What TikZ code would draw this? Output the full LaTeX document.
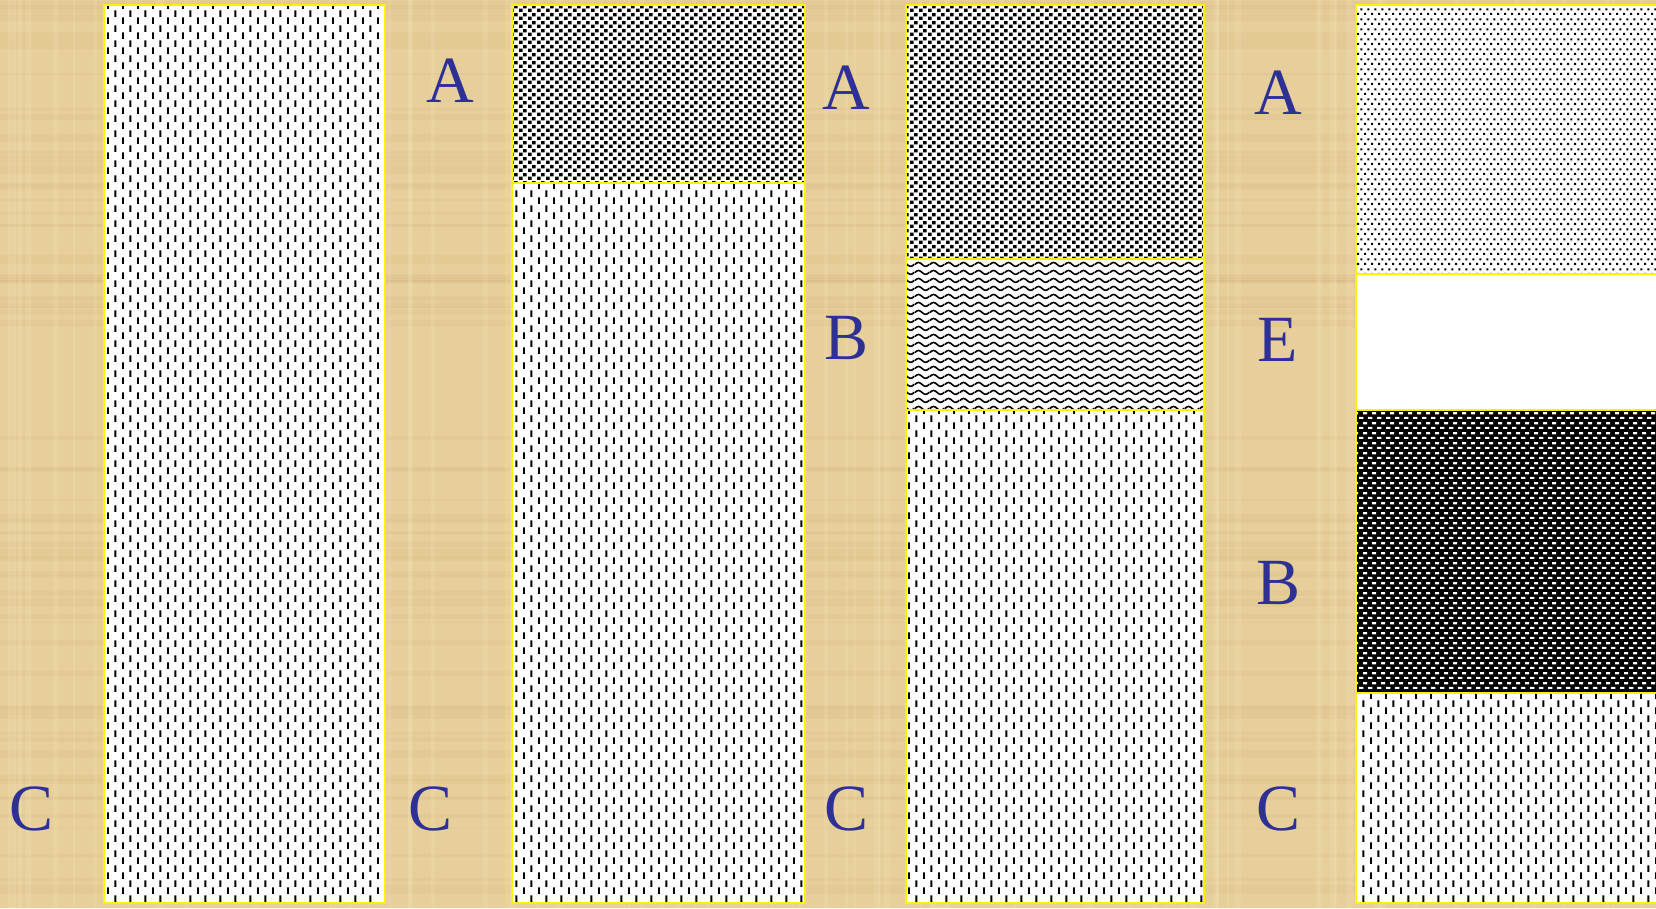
\documentclass[tikz,border=0pt]{standalone}
\usepackage{fontspec}
\setmainfont{Liberation Serif}
\usetikzlibrary{patterns.meta,positioning}

\definecolor{papyrus}{RGB}{231,207,155}
\definecolor{papyrusdark}{RGB}{205,172,112}
\definecolor{papyruslight}{RGB}{245,228,188}
\definecolor{letterblue}{RGB}{46,48,150}

\tikzdeclarepattern{
  name=dashgrid,
  bounding box={(0pt,0pt) and (15.4pt,15pt)},
  tile size={(15.4pt,15pt)},
  code={
    \fill (0pt,0pt) rectangle (2pt,7pt);
    \fill (7.7pt,7.5pt) rectangle (9.7pt,14.5pt);
  }
}
\tikzdeclarepattern{
  name=squaregrid,
  bounding box={(0pt,0pt) and (8.5pt,8pt)},
  tile size={(8.5pt,8pt)},
  code={
    \fill (0pt,0pt) rectangle (3.7pt,3.7pt);
    \fill (4.25pt,4pt) rectangle (7.95pt,7.7pt);
  }
}
\tikzdeclarepattern{
  name=wavegrid,
  bounding box={(0pt,0pt) and (15pt,8pt)},
  tile size={(15pt,8pt)},
  code={
    \draw[line width=1.8pt] (-0.5pt,4pt) -- (0pt,4pt) sin (3.75pt,6.2pt) cos (7.5pt,4pt)
      sin (11.25pt,1.8pt) cos (15pt,4pt) -- (15.5pt,4pt);
  }
}
\tikzdeclarepattern{
  name=dotgrid,
  bounding box={(0pt,0pt) and (7.3pt,9.6pt)},
  tile size={(7.3pt,9.6pt)},
  code={
    \fill (0pt,0pt) rectangle (2.2pt,2.2pt);
    \fill (3.65pt,4.8pt) rectangle (5.85pt,7pt);
  }
}
\tikzdeclarepattern{
  name=brickgrid,
  bounding box={(0pt,0pt) and (8.6pt,10pt)},
  tile size={(8.6pt,10pt)},
  code={
    \fill (0pt,0pt) rectangle (4.5pt,2.4pt);
    \fill (4.3pt,5pt) rectangle (8.6pt,7.4pt);
  }
}

\begin{document}
\begin{tikzpicture}[
  x=1pt, y=-1pt,
  zone/.style={draw=yellow, line width=2pt, inner sep=0pt, outer sep=0pt, anchor=north west},
  lite/.style={zone, preaction={fill=white}},
  lab/.style={font=\fontsize{66}{70}\selectfont, text=letterblue, anchor=base, inner sep=0pt}
]
\useasboundingbox (0,0) rectangle (1656,908);
\fill[papyrus] (0,0) rectangle (1656,908);
\pgfmathsetseed{11}
\foreach \i in {1,...,70} {
  \pgfmathsetmacro{\yy}{rnd*908}
  \pgfmathsetmacro{\hh}{1+rnd*8}
  \fill[papyrusdark, opacity=0.12] (0,\yy) rectangle (1656,\yy+\hh);
}
\foreach \i in {1,...,90} {
  \pgfmathsetmacro{\xx}{rnd*1656}
  \pgfmathsetmacro{\ww}{1+rnd*6}
  \fill[papyruslight, opacity=0.2] (\xx,0) rectangle (\xx+\ww,908);
}

\node[lite, pattern=dashgrid, minimum width=281pt, minimum height=898pt] (colc) at (104,5) {};

\node[lite, pattern=squaregrid, minimum width=293pt, minimum height=178pt] (acA) at (512,5) {};
\node[lite, pattern=dashgrid, minimum width=293pt, minimum height=720pt] (acC) at (512,183) {};

\node[lite, pattern=squaregrid, minimum width=298pt, minimum height=254pt] (abcA) at (906,5) {};
\node[lite, pattern=wavegrid, minimum width=298pt, minimum height=151pt] (abcB) at (906,259) {};
\node[lite, pattern=dashgrid, minimum width=298pt, minimum height=493pt] (abcC) at (906,410) {};

\node[lite, pattern=dotgrid, minimum width=304pt, minimum height=269pt] (aebcA) at (1356,5) {};
\node[zone, fill=white, minimum width=304pt, minimum height=136pt] (aebcE) at (1356,274) {};
\node[zone, preaction={fill=black}, pattern=brickgrid, pattern color=white, minimum width=304pt, minimum height=283pt] (aebcB) at (1356,410) {};
\node[lite, pattern=dashgrid, minimum width=304pt, minimum height=210pt] (aebcC) at (1356,693) {};

\node[lab] (labC0) at (32,830) {C};
\node[lab] (labA1) at (450,102) {A};
\node[lab] (labC1) at (431,830) {C};
\node[lab] (labA2) at (846,109) {A};
\node[lab] (labB2) at (846,359) {B};
\node[lab] (labC2) at (846,830) {C};
\node[lab] (labA3) at (1278,114) {A};
\node[lab] (labE3) at (1278,361) {E};
\node[lab] (labB3) at (1278,604) {B};
\node[lab] (labC3) at (1278,830) {C};
\end{tikzpicture}
\end{document}
